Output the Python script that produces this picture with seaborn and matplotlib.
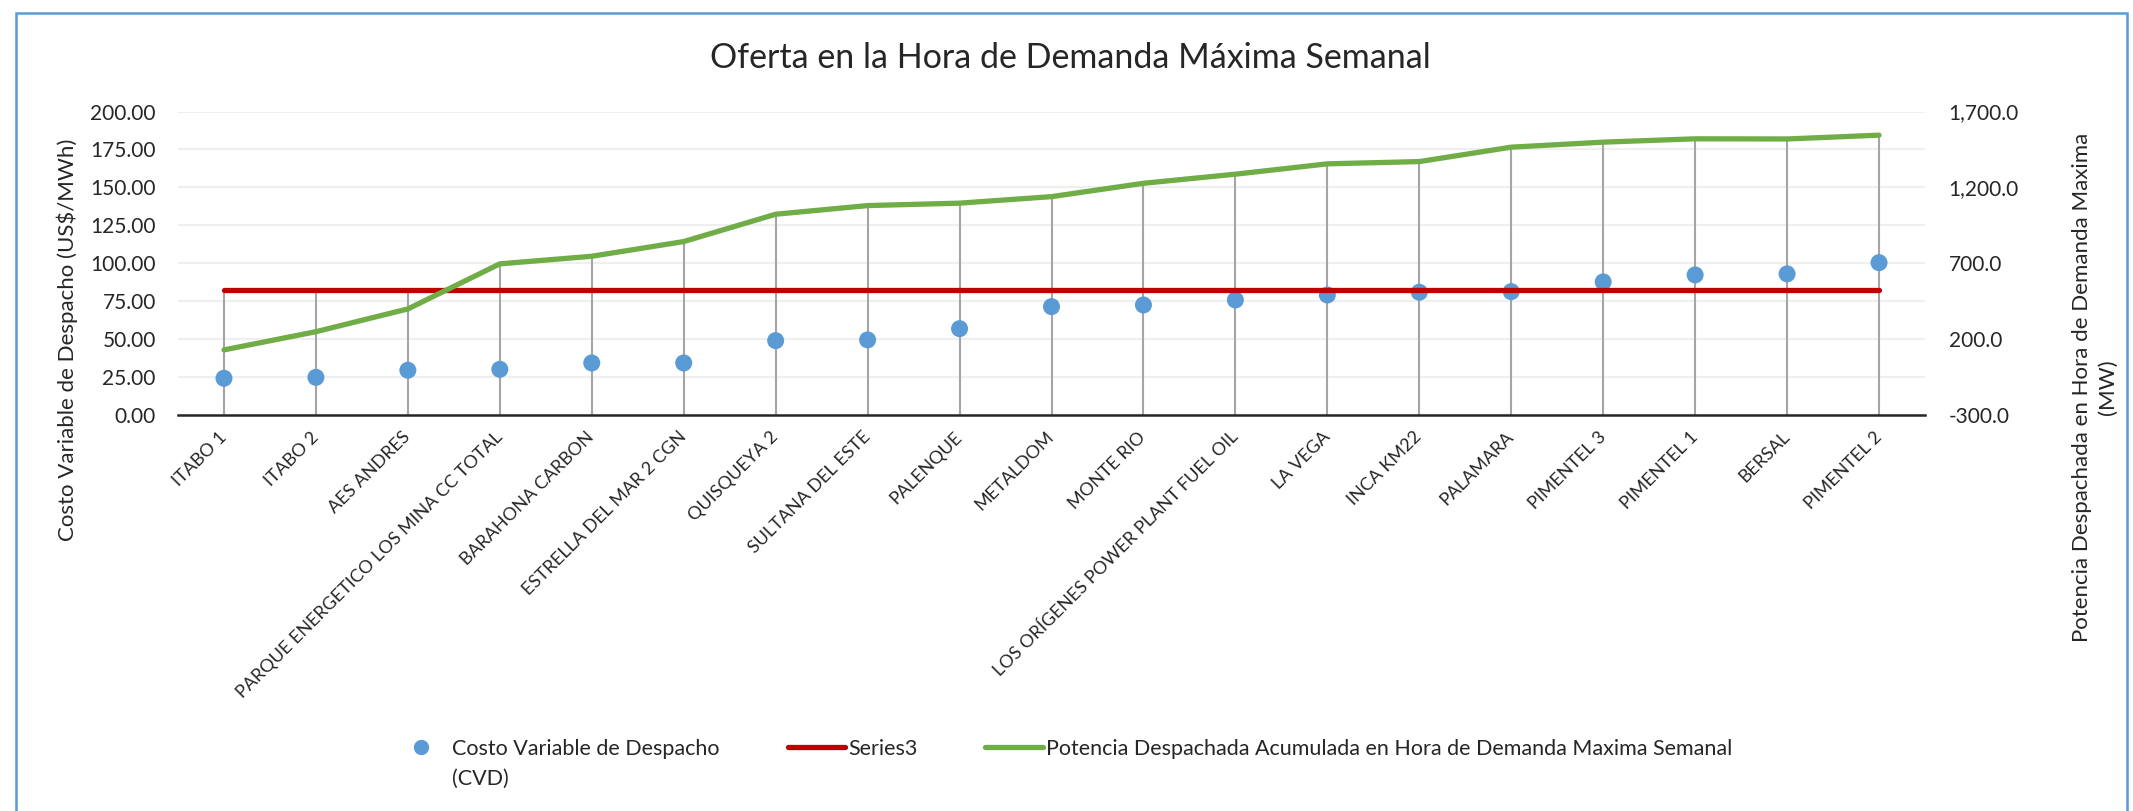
import numpy as np
import pandas as pd
import matplotlib
matplotlib.use('Agg')
import matplotlib.pyplot as plt
import seaborn as sns
from matplotlib.lines import Line2D
from matplotlib.patches import Rectangle
from matplotlib.ticker import FuncFormatter

# datos
plantas = ['ITABO 1', 'ITABO 2', 'AES ANDRES', 'PARQUE ENERGETICO LOS MINA CC TOTAL',
           'BARAHONA CARBON', 'ESTRELLA DEL MAR 2 CGN', 'QUISQUEYA 2', 'SULTANA DEL ESTE',
           'PALENQUE', 'METALDOM', 'MONTE RIO', 'LOS ORÍGENES POWER PLANT FUEL OIL',
           'LA VEGA', 'INCA KM22', 'PALAMARA', 'PIMENTEL 3', 'PIMENTEL 1', 'BERSAL', 'PIMENTEL 2']
cvd = [24.2, 24.8, 29.5, 30.1, 34.3, 34.3, 49.0, 49.5, 56.9, 71.4,
       72.5, 75.8, 79.1, 80.9, 81.3, 87.7, 92.3, 93.0, 100.4]
series3 = [82.4, 82.4, 82.4, 82.4, 82.4, 82.4, 82.4, 82.4, 82.4, 82.4,
           82.4, 82.4, 82.4, 82.4, 82.4, 82.4, 82.4, 82.4, 82.4]
potencia = [129, 249, 399, 696, 746, 843, 1023, 1080, 1096, 1139,
            1227, 1287, 1355, 1370, 1465, 1498, 1520, 1519, 1544]

left_ticks = [0, 25, 50, 75, 100, 125, 150, 175, 200]
right_ticks = [-300, 200, 700, 1200, 1700]

AZUL = '#5B9BD5'
ROJO = '#C00000'
VERDE = '#70AD47'

sns.set_theme(style='white')
plt.rcParams['font.family'] = ['Lato', 'DejaVu Sans']
plt.rcParams['text.color'] = '#262626'

df = pd.DataFrame({'x': np.arange(len(plantas)), 'planta': plantas,
                   'cvd': cvd, 'series3': series3, 'potencia': potencia})

W, H = 2133, 811
fig = plt.figure(figsize=(W / 100, H / 100), dpi=100)
ax = fig.add_axes([178 / W, 1 - 415 / H, (1925 - 178) / W, (415 - 111.5) / H])
ax2 = ax.twinx()

ax.set_ylim(0, 200)
ax2.set_ylim(-300, 1700)
ax.set_xlim(-0.5, len(plantas) - 0.5)

# lineas de caida (drop lines) hasta el punto mas alto de cada categoria
pot_izq = (df['potencia'] - ax2.get_ylim()[0]) / (ax2.get_ylim()[1] - ax2.get_ylim()[0]) * 200
tope = np.maximum.reduce([df['cvd'], df['series3'], pot_izq])
ax.vlines(df['x'], 0, tope, color='#A5A5A5', lw=1.5, zorder=1)

sns.scatterplot(data=df, x='x', y='cvd', ax=ax, color=AZUL, s=150,
                edgecolor='none', zorder=3, legend=False)
sns.lineplot(data=df, x='x', y='series3', ax=ax, color=ROJO, lw=3.8,
             solid_capstyle='round', zorder=4, legend=False)
sns.lineplot(data=df, x='x', y='potencia', ax=ax2, color=VERDE, lw=3.8,
             solid_capstyle='round', legend=False)

ax.set_xlim(-0.5, len(plantas) - 0.5)
ax.set_ylabel('')
ax2.set_ylabel('')
ax.set_xlabel('')

ax.set_yticks(left_ticks)
ax.yaxis.set_major_formatter(FuncFormatter(lambda v, p: f'{v:.2f}'))
ax2.set_yticks(right_ticks)
ax2.yaxis.set_major_formatter(FuncFormatter(lambda v, p: f'{v:,.1f}'))
ax.tick_params(axis='y', length=0, pad=16, labelsize=15, labelcolor='#262626')
ax2.tick_params(axis='y', length=0, pad=17, labelsize=15, labelcolor='#262626')

ax.grid(axis='y', color='#EFEFEF', lw=1.5)
ax.grid(axis='x', visible=False)
ax2.grid(False)

# ticks en los limites de categoria, etiquetas al centro
ax.set_xticks(np.arange(-0.5, len(plantas), 1))
ax.set_xticklabels([])
ax.set_xticks(df['x'], minor=True)
ax.set_xticklabels(plantas, minor=True, rotation=45, ha='right', va='center',
                   rotation_mode='anchor', fontsize=13)
ax.tick_params(axis='x', which='major', length=7, width=1.3, color='#262626', direction='out')
ax.tick_params(axis='x', which='minor', length=0, pad=14)

for a in (ax, ax2):
    for s in ('top', 'left', 'right'):
        a.spines[s].set_visible(False)
ax2.spines['bottom'].set_visible(False)
ax.spines['bottom'].set_color('#262626')
ax.spines['bottom'].set_linewidth(1.8)

fig.text(1070 / W, 1 - 58 / H, 'Oferta en la Hora de Demanda Máxima Semanal',
         ha='center', va='center', fontsize=24.5)
fig.text(67 / W, 1 - 340 / H, 'Costo Variable de Despacho (US$/MWh)',
         rotation=90, ha='center', va='center', fontsize=16)
fig.text(2095 / W, 1 - 387 / H, 'Potencia Despachada en Hora de Demanda Maxima\n(MW)',
         rotation=90, ha='center', va='center', fontsize=16, linespacing=1.35,
         multialignment='center')

handles = [Line2D([], [], ls='none', marker='o', markersize=11, color=AZUL, markeredgecolor='none'),
           Line2D([], [], color=ROJO, lw=3.8, solid_capstyle='round'),
           Line2D([], [], color=VERDE, lw=3.8, solid_capstyle='round')]
labels = ['Costo Variable de Despacho', 'Series3',
          'Potencia Despachada Acumulada en Hora de Demanda Maxima Semanal']
leg = fig.legend(handles, labels, loc='center left', bbox_to_anchor=(392 / W, 1 - 749 / H),
                 ncol=3, frameon=False, fontsize=15.5, handlelength=2.65,
                 handletextpad=0.16, columnspacing=3.15, borderpad=0, borderaxespad=0)

fig.canvas.draw()
bb = leg.get_texts()[0].get_window_extent()
fig.text(bb.x0 / W, (bb.y0 - 10) / H, '(CVD)', ha='left', va='top', fontsize=15.5)

fig.add_artist(Rectangle((15.5 / W, -0.05), (2127 - 15.5) / W, 1.05 - 13 / H,
                         transform=fig.transFigure, fill=False, edgecolor=AZUL,
                         lw=1.8, clip_on=False))

fig.savefig('out.png', dpi=100)
